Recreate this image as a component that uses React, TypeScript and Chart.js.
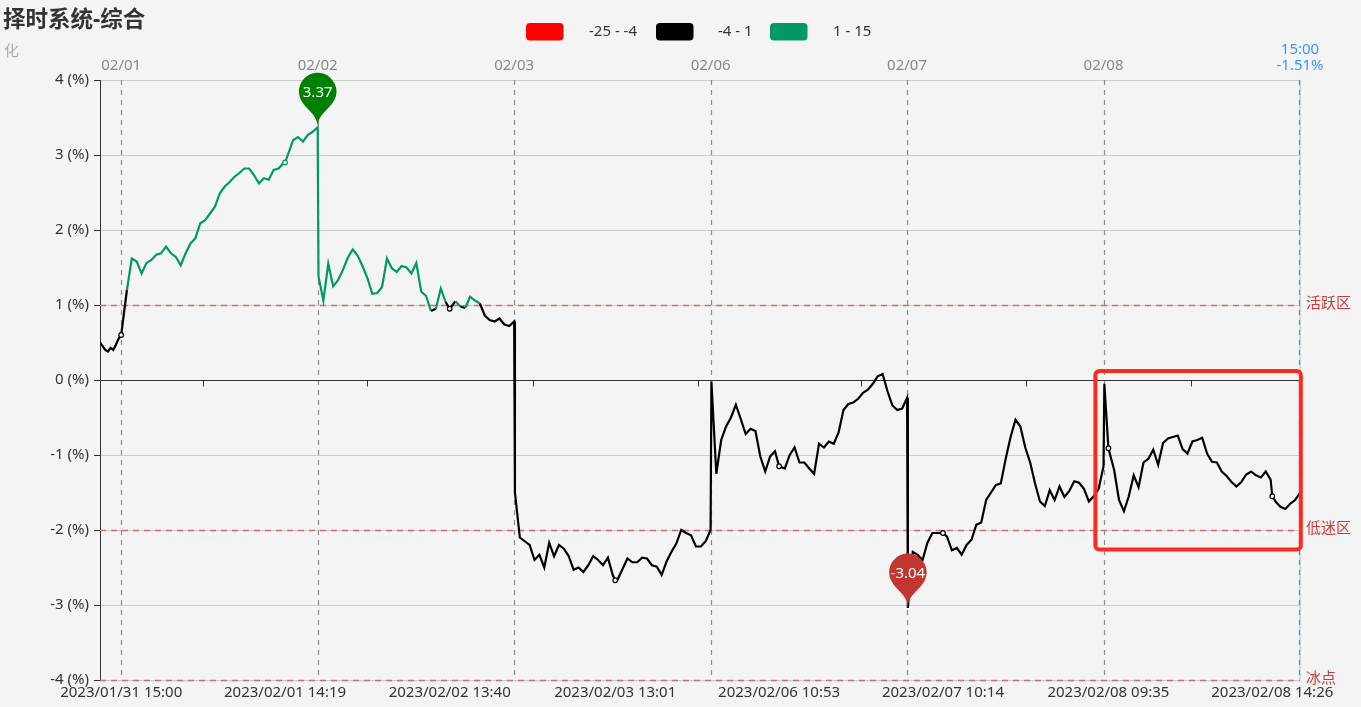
import React, { useEffect, useRef } from "react";
import { Chart, registerables } from "chart.js";

Chart.register(...registerables);

const FONT = "'Noto Sans', 'Noto Sans CJK SC', sans-serif";

// ---- texts ----
const titleText = "择时系统-综合";
const subtitleText = "化";
const legendRanges = ["-25 - -4", "-4 - 1", "1 - 15"];
const legendColors = ["#ff0000", "#000000", "#009966"];
const zoneLimits = [-4, 1];

// ---- series (percent), one array per trading day, 6-minute samples 09:30..15:00 ----
const pre0131 = [0.5, 0.45, 0.4, 0.38, 0.43, 0.4, 0.47, 0.55, 0.6];
const d0201 = [0.36, 1.2, 1.62, 1.58, 1.42, 1.56, 1.6, 1.67, 1.69, 1.78, 1.69, 1.64, 1.53, 1.69, 1.82, 1.89, 2.09, 2.13, 2.22, 2.31, 2.49, 2.58, 2.64, 2.71, 2.76, 2.82, 2.82, 2.73, 2.62, 2.69, 2.67, 2.8, 2.82, 2.89, 3.02, 3.2, 3.24, 3.18, 3.27, 3.31, 3.37];
const d0202 = [1.38, 1.06, 1.55, 1.25, 1.33, 1.47, 1.63, 1.74, 1.66, 1.52, 1.36, 1.15, 1.16, 1.24, 1.62, 1.49, 1.44, 1.52, 1.5, 1.42, 1.56, 1.18, 1.12, 0.92, 0.95, 1.22, 1.04, 0.95, 1.05, 0.98, 0.96, 1.11, 1.06, 1.02, 0.86, 0.8, 0.78, 0.82, 0.74, 0.72, 0.78];
const d0203 = [-1.5, -2.1, -2.15, -2.2, -2.4, -2.33, -2.5, -2.17, -2.35, -2.2, -2.25, -2.35, -2.53, -2.5, -2.56, -2.47, -2.35, -2.4, -2.47, -2.37, -2.6, -2.66, -2.52, -2.38, -2.43, -2.43, -2.37, -2.38, -2.47, -2.49, -2.6, -2.42, -2.29, -2.18, -2.0, -2.04, -2.07, -2.22, -2.22, -2.15, -2.0];
const d0206 = [-0.02, -1.25, -0.8, -0.62, -0.5, -0.33, -0.52, -0.72, -0.65, -0.68, -1.02, -1.22, -1.02, -0.95, -1.18, -1.18, -1.0, -0.9, -1.1, -1.1, -1.18, -1.25, -0.85, -0.9, -0.82, -0.85, -0.7, -0.4, -0.32, -0.3, -0.25, -0.17, -0.13, -0.05, 0.05, 0.08, -0.15, -0.34, -0.4, -0.38, -0.24];
const d0207 = [-3.04, -2.29, -2.33, -2.4, -2.17, -2.04, -2.04, -2.02, -2.09, -2.27, -2.24, -2.33, -2.2, -2.13, -1.93, -1.9, -1.6, -1.5, -1.4, -1.38, -1.05, -0.76, -0.53, -0.62, -0.9, -1.1, -1.38, -1.62, -1.68, -1.47, -1.6, -1.42, -1.56, -1.48, -1.35, -1.37, -1.45, -1.62, -1.55, -1.45, -1.15];
const d0208 = [-0.05, -0.92, -1.2, -1.6, -1.75, -1.55, -1.27, -1.43, -1.1, -1.05, -0.93, -1.13, -0.84, -0.78, -0.76, -0.74, -0.92, -0.98, -0.82, -0.8, -0.77, -0.98, -1.09, -1.1, -1.22, -1.28, -1.36, -1.42, -1.36, -1.26, -1.22, -1.27, -1.3, -1.22, -1.33, -1.62, -1.69, -1.72, -1.65, -1.6, -1.51];
const days = [d0201, d0202, d0203, d0206, d0207, d0208];
const dayLabels = ["02/01", "02/02", "02/03", "02/06", "02/07", "02/08"];

// minute-index layout: 01/31 tail = 27 minutes, then 241 minutes per day
const preMinutes = 27;
const dayMinutes = 241;
const sampleStep = 6;

// labelled x-axis points (index, text, value)
const labelIdx = [26, 227, 429, 632, 833, 1034, 1237, 1438];
const labelTexts = ["2023/01/31 15:00", "2023/02/01 14:19", "2023/02/02 13:40", "2023/02/03 13:01", "2023/02/06 10:53", "2023/02/07 10:14", "2023/02/08 09:35", "2023/02/08 14:26"];
const labelValues = [0.6, 2.9, 0.95, -2.67, -1.15, -2.04, -0.91, -1.55];
const zeroTickIdx = [126, 328, 531, 733, 934, 1136, 1338];
const separatorIdx = [26, 267, 508, 749, 990, 1231];
const endIdx = 1472;
const endTime = "15:00";

// reference levels
const levelValues = [1, -2, -4];
const levelNames = ["活跃区", "低迷区", "冰点"];

// y axis
const yMin = -4;
const yMax = 4;

// highlighted region (data units)
const highlightX = [1221, 1473];
const highlightY = [-2.26, 0.12];

const zoneColor = (v: number) =>
  v < zoneLimits[0] ? legendColors[0] : v <= zoneLimits[1] ? legendColors[1] : legendColors[2];

function buildPoints() {
  const pts: { x: number; y: number; mark?: boolean }[] = [];
  pre0131.forEach((v, i) => pts.push({ x: ((preMinutes - 1) * i) / (pre0131.length - 1), y: v }));
  days.forEach((arr, k) => {
    arr.forEach((v, j) => pts.push({ x: preMinutes + dayMinutes * k + sampleStep * j, y: v }));
  });
  const filtered = pts.filter((p) => !labelIdx.some((l) => Math.abs(l - p.x) < 2));
  labelIdx.forEach((l, i) => filtered.push({ x: l, y: labelValues[i], mark: true }));
  filtered.sort((a, b) => a.x - b.x);
  return filtered;
}

function pinPath(ctx: CanvasRenderingContext2D, x: number, y: number, size: number) {
  const w = (size / 5) * 3;
  const h = Math.max(w, size);
  const r = w / 2;
  const dy = (r * r) / (h - r);
  const cy = y - h + r + dy;
  const angle = Math.asin(dy / r);
  const dx = Math.cos(angle) * r;
  const tanX = Math.sin(angle);
  const tanY = Math.cos(angle);
  const cpLen = r * 0.6;
  const cpLen2 = r * 0.7;
  ctx.beginPath();
  ctx.moveTo(x - dx, cy + dy);
  ctx.arc(x, cy, r, Math.PI - angle, Math.PI * 2 + angle);
  ctx.bezierCurveTo(x + dx - tanX * cpLen, cy + dy + tanY * cpLen, x, y - cpLen2, x, y);
  ctx.bezierCurveTo(x, y - cpLen2, x - dx + tanX * cpLen, cy + dy + tanY * cpLen, x - dx, cy + dy);
  ctx.closePath();
  return cy;
}

function rrect(ctx: CanvasRenderingContext2D, x: number, y: number, w: number, h: number, r: number) {
  ctx.beginPath();
  ctx.moveTo(x + r, y);
  ctx.lineTo(x + w - r, y);
  ctx.arcTo(x + w, y, x + w, y + r, r);
  ctx.lineTo(x + w, y + h - r);
  ctx.arcTo(x + w, y + h, x + w - r, y + h, r);
  ctx.lineTo(x + r, y + h);
  ctx.arcTo(x, y + h, x, y + h - r, r);
  ctx.lineTo(x, y + r);
  ctx.arcTo(x, y, x + r, y, r);
  ctx.closePath();
}

const decorPlugin = {
  id: "decor",
  beforeDraw(chart: any) {
    const ctx = chart.ctx as CanvasRenderingContext2D;
    ctx.save();
    ctx.fillStyle = "#f4f4f4";
    ctx.fillRect(0, 0, chart.width, chart.height);
    ctx.restore();
  },
  beforeDatasetsDraw(chart: any) {
    const ctx = chart.ctx as CanvasRenderingContext2D;
    const xs = chart.scales.x;
    const ys = chart.scales.y;
    const { left, right, top, bottom } = chart.chartArea;
    ctx.save();
    // right frame
    ctx.strokeStyle = "#d6d6d6";
    ctx.lineWidth = 2;
    ctx.beginPath();
    ctx.moveTo(right, top);
    ctx.lineTo(right, bottom);
    ctx.stroke();

    // level lines
    ctx.setLineDash([6, 5]);
    ctx.lineWidth = 1.4;
    ctx.strokeStyle = "#d46a6a";
    levelValues.forEach((v) => {
      const y = Math.round(ys.getPixelForValue(v)) + 0.5;
      ctx.beginPath();
      ctx.moveTo(left, y);
      ctx.lineTo(right, y);
      ctx.stroke();
    });

    // day separators
    ctx.strokeStyle = "#8c8c8c";
    ctx.lineWidth = 1.2;
    ctx.setLineDash([5, 5]);
    separatorIdx.forEach((idx) => {
      const x = Math.round(xs.getPixelForValue(idx)) + 0.5;
      ctx.beginPath();
      ctx.moveTo(x, top);
      ctx.lineTo(x, bottom);
      ctx.stroke();
    });
    // end line
    ctx.strokeStyle = "#3399ff";
    const ex = Math.round(xs.getPixelForValue(endIdx)) - 0.5;
    ctx.beginPath();
    ctx.moveTo(ex, top);
    ctx.lineTo(ex, bottom);
    ctx.stroke();
    ctx.setLineDash([]);

    // zero axis line with ticks
    const zy = Math.round(ys.getPixelForValue(0)) + 0.5;
    ctx.strokeStyle = "#333";
    ctx.lineWidth = 1;
    ctx.beginPath();
    ctx.moveTo(left, zy);
    ctx.lineTo(right, zy);
    zeroTickIdx.forEach((idx) => {
      const x = Math.round(xs.getPixelForValue(idx)) + 0.5;
      ctx.moveTo(x, zy);
      ctx.lineTo(x, zy + 6);
    });
    ctx.stroke();

    // texts for lines
    ctx.font = `15px ${FONT}`;
    ctx.textAlign = "center";
    ctx.textBaseline = "alphabetic";
    ctx.fillStyle = "#888";
    separatorIdx.forEach((idx, i) => {
      ctx.fillText(dayLabels[i], xs.getPixelForValue(idx), top - 10);
    });
    const data = chart.data.datasets[0].data as { x: number; y: number }[];
    const last = data[data.length - 1];
    ctx.fillStyle = "#3399ff";
    ctx.fillText(endTime, xs.getPixelForValue(endIdx), top - 26);
    ctx.fillText(`${last.y.toFixed(2)}%`, xs.getPixelForValue(endIdx), top - 10);

    ctx.textAlign = "left";
    ctx.textBaseline = "middle";
    ctx.fillStyle = "#cc3b3b";
    levelValues.forEach((v, i) => {
      ctx.fillText(levelNames[i], right + 6, ys.getPixelForValue(v) - 1);
    });
    ctx.restore();
  },
  afterDatasetsDraw(chart: any) {
    const ctx = chart.ctx as CanvasRenderingContext2D;
    const xs = chart.scales.x;
    const ys = chart.scales.y;
    const data = chart.data.datasets[0].data as { x: number; y: number }[];
    let maxP = data[0];
    let minP = data[0];
    data.forEach((p) => {
      if (p.y > maxP.y) maxP = p;
      if (p.y < minP.y) minP = p;
    });
    ctx.save();
    [
      { p: maxP, color: "#008000" },
      { p: minP, color: "#c23531" },
    ].forEach(({ p, color }) => {
      const x = xs.getPixelForValue(p.x);
      const y = ys.getPixelForValue(p.y);
      const cy = pinPath(ctx, x, y, 62.5);
      ctx.fillStyle = color;
      ctx.fill();
      ctx.fillStyle = "#fff";
      ctx.font = `15px ${FONT}`;
      ctx.textAlign = "center";
      ctx.textBaseline = "middle";
      ctx.fillText(p.y.toFixed(2), x, cy + 1);
    });

    // highlight box
    const hx0 = xs.getPixelForValue(highlightX[0]);
    const hx1 = xs.getPixelForValue(highlightX[1]);
    const hy0 = ys.getPixelForValue(highlightY[1]);
    const hy1 = ys.getPixelForValue(highlightY[0]);
    ctx.strokeStyle = "#ff2a1c";
    ctx.lineWidth = 4;
    rrect(ctx, hx0, hy0, hx1 - hx0, hy1 - hy0, 4);
    ctx.stroke();

    // title & subtitle
    ctx.fillStyle = "#333";
    ctx.textAlign = "left";
    ctx.textBaseline = "middle";
    ctx.font = `bold 22.5px ${FONT}`;
    ctx.fillText(titleText, 3, 21);
    ctx.fillStyle = "#aaa";
    ctx.font = `15px ${FONT}`;
    ctx.fillText(subtitleText, 4, 52);

    // legend
    const boxX = [526, 656, 770];
    const textX = [589, 718, 833];
    legendRanges.forEach((t, i) => {
      ctx.fillStyle = legendColors[i];
      rrect(ctx, boxX[i], 23, 37.5, 17.5, 4);
      ctx.fill();
      ctx.fillStyle = "#333";
      ctx.font = `15px ${FONT}`;
      ctx.fillText(t, textX[i], 32);
    });
    ctx.restore();
  },
};

export default function App() {
  const ref = useRef<HTMLCanvasElement | null>(null);
  useEffect(() => {
    if (!ref.current) return;
    const points = buildPoints();
    const chart = new Chart(ref.current, {
      type: "line",
      data: {
        datasets: [
          {
            data: points as any,
            borderWidth: 2.2,
            tension: 0,
            segment: {
              borderColor: (c: any) => zoneColor((c.p0.parsed.y + c.p1.parsed.y) / 2),
            },
            borderColor: "#000",
            pointRadius: (c: any) => (c.raw && c.raw.mark ? 2.3 : 0),
            pointHoverRadius: 0,
            pointBackgroundColor: "#fff",
            pointBorderColor: (c: any) => zoneColor(c.raw ? c.raw.y : 0),
            pointBorderWidth: 1.2,
          },
        ],
      },
      options: {
        animation: false,
        responsive: false,
        maintainAspectRatio: false,
        events: [],
        layout: { padding: { left: 0, right: 61, top: 80, bottom: 0 } },
        plugins: { legend: { display: false }, tooltip: { enabled: false } },
        scales: {
          x: {
            type: "linear",
            min: 0,
            max: endIdx,
            grid: { display: false, drawTicks: false },
            border: { display: false },
            afterBuildTicks: (s: any) => {
              s.ticks = labelIdx.map((v) => ({ value: v }));
            },
            afterFit: (s: any) => {
              s.height = 27;
              s.paddingLeft = 0;
              s.paddingRight = 0;
            },
            ticks: {
              autoSkip: false,
              maxRotation: 0,
              padding: 4,
              color: "#333",
              font: { size: 15, family: FONT },
              callback: (v: any) => {
                const i = labelIdx.indexOf(Number(v));
                return i >= 0 ? labelTexts[i] : "";
              },
            },
          },
          y: {
            min: yMin,
            max: yMax,
            afterFit: (s: any) => {
              s.width = 100;
              s.paddingTop = 0;
              s.paddingBottom = 0;
            },
            grid: { color: "#cccccc", tickColor: "#333", tickLength: 6, lineWidth: 1 },
            border: { display: true, color: "#333", width: 1 },
            ticks: {
              stepSize: 1,
              padding: 5,
              color: "#333",
              font: { size: 15, family: FONT },
              callback: (v: any) => `${v} (%)`,
            },
          },
        },
      },
      plugins: [decorPlugin],
    });
    return () => chart.destroy();
  }, []);
  return (
    <div style={{ position: "fixed", left: 0, top: 0, width: 1361, height: 707, background: "#f4f4f4" }}>
      <canvas ref={ref} width={1361} height={707} style={{ display: "block", width: 1361, height: 707 }} />
    </div>
  );
}
